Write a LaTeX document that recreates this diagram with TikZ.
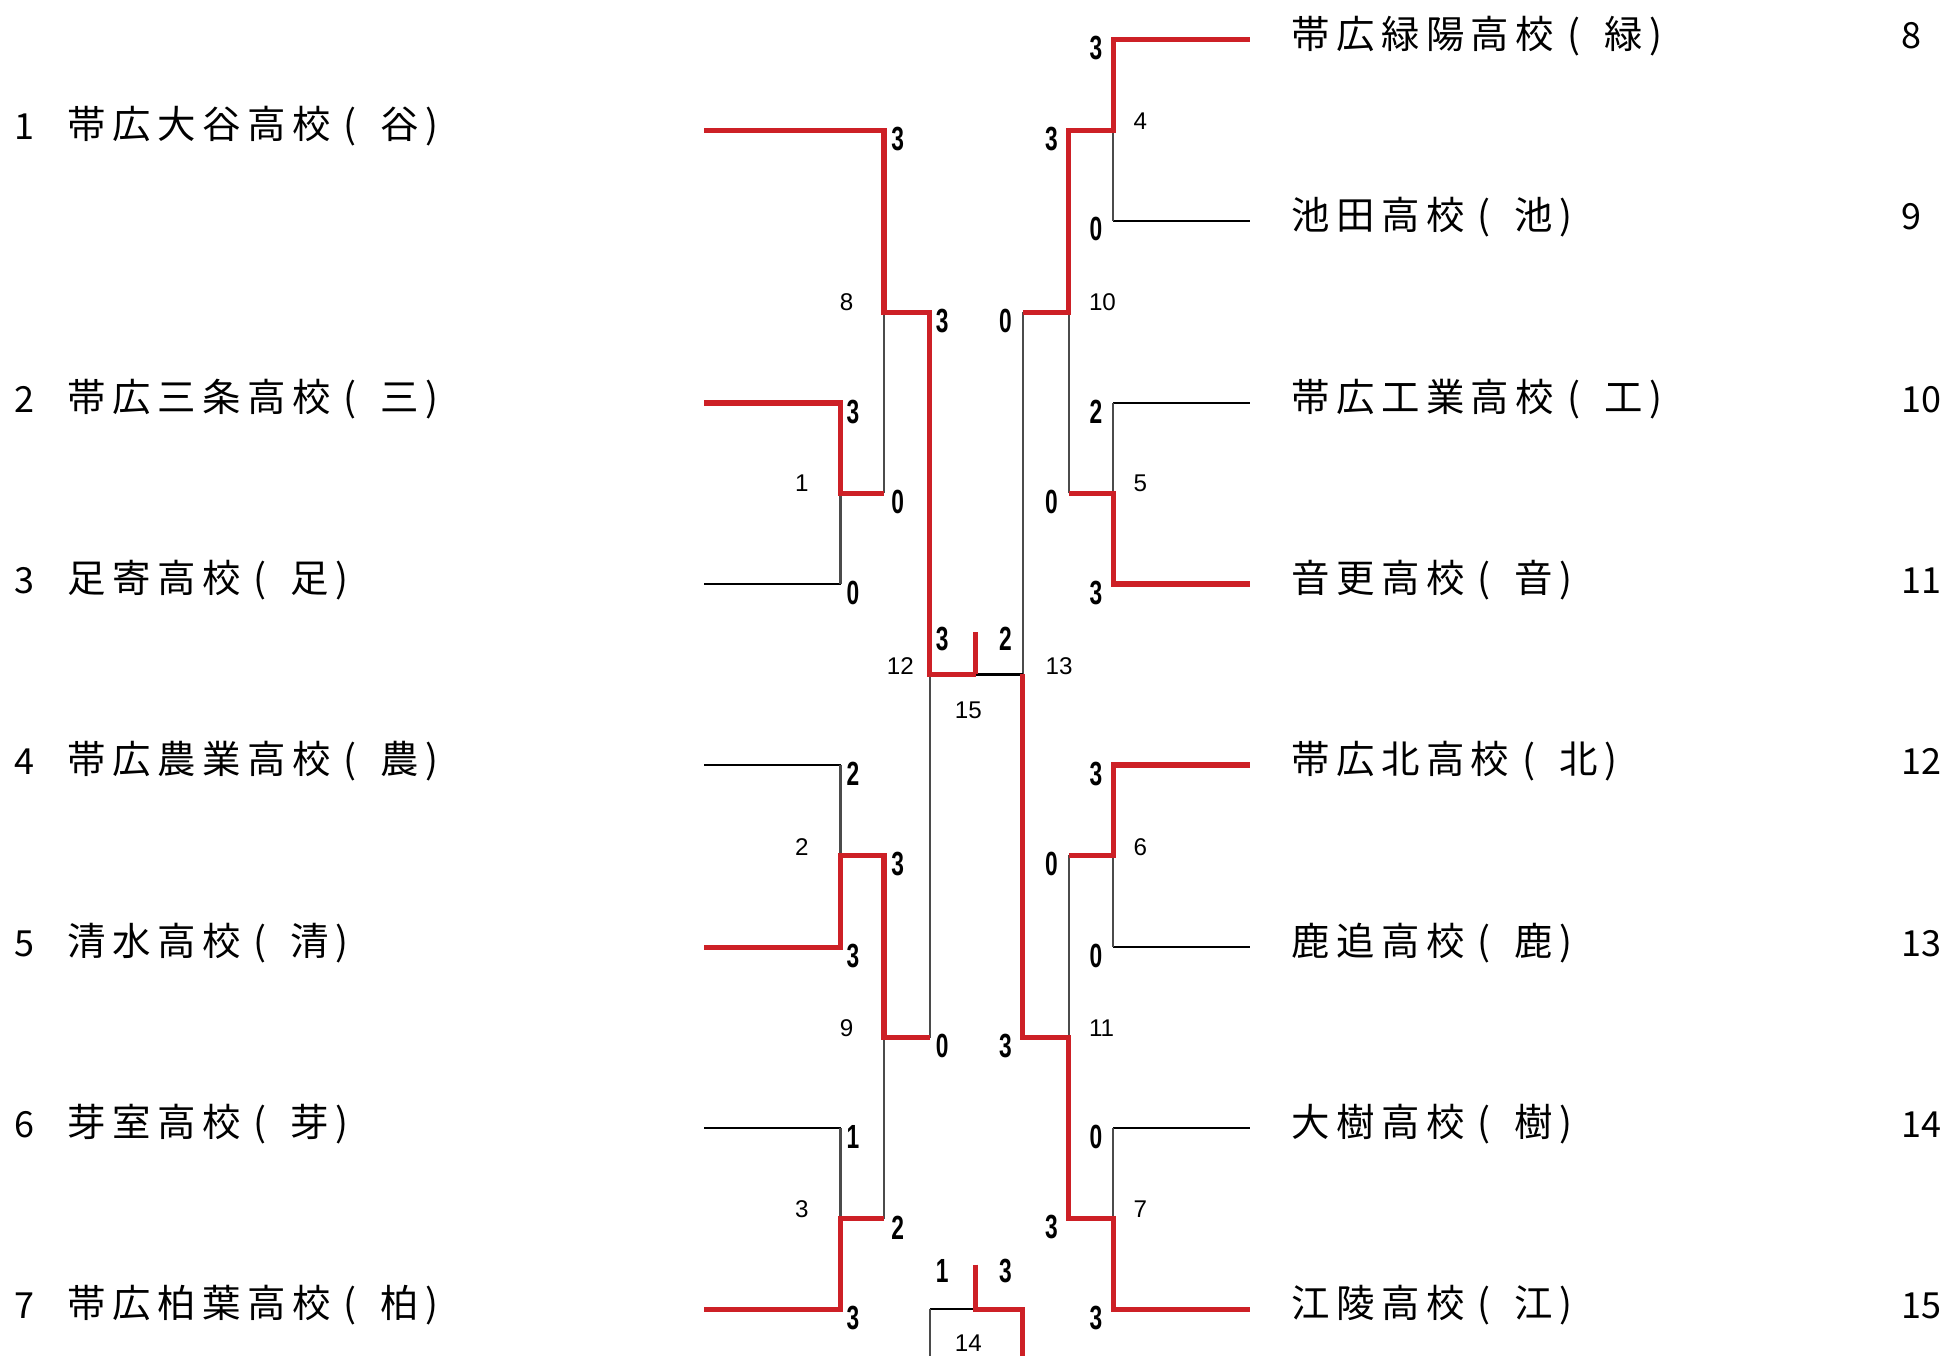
\documentclass[tikz,border=0pt]{standalone}
\usepackage{fontspec}
\newfontfamily\jpfont[LetterSpace=17]{Noto Sans CJK JP}
\newfontfamily\jpnum{Noto Sans CJK JP}
\newfontfamily\scorefont[FakeStretch=0.68]{Liberation Sans}
\newfontfamily\labelfont{Liberation Sans}
\newcommand\myopen{\hspace{5.25pt}(\hspace{9.6pt}}
\definecolor{win}{RGB}{205,32,38}
\definecolor{lossv}{RGB}{75,75,75}
\begin{document}
\begin{tikzpicture}[x=0.5pt,y=-0.5pt,
  tl/.style={line width=0.9pt, black},
  vl/.style={line width=0.9pt, lossv},
  wl/.style={line width=2.1pt, win, line join=miter},
  team/.style={anchor=west, inner sep=0pt, font=\jpfont\fontsize{15.5}{17}\selectfont},
  tnum/.style={inner sep=0pt, font=\jpnum\fontsize{14.5}{16}\selectfont},
  sc/.style={inner sep=0pt, font=\scorefont\bfseries\fontsize{13.5}{15}\selectfont},
  ml/.style={inner sep=0pt, anchor=west, font=\labelfont\fontsize{9.75}{11}\selectfont},
  mlc/.style={inner sep=0pt, font=\labelfont\fontsize{9.75}{11}\selectfont}]
\useasboundingbox (0,0) rectangle (1568,1094);
% team line ends
\coordinate (T1) at (568,105);  \coordinate (E1) at (713,105);
\coordinate (T2) at (568,325);  \coordinate (E2) at (678,325);
\coordinate (T3) at (568,471);  \coordinate (E3) at (678,471);
\coordinate (T4) at (568,617);  \coordinate (E4) at (678,617);
\coordinate (T5) at (568,764);  \coordinate (E5) at (678,764);
\coordinate (T6) at (568,910);  \coordinate (E6) at (678,910);
\coordinate (T7) at (568,1056); \coordinate (E7) at (678,1056);
\coordinate (T8) at (1008,32);  \coordinate (E8) at (898,32);
\coordinate (T9) at (1008,178); \coordinate (E9) at (898,178);
\coordinate (T10) at (1008,325); \coordinate (E10) at (898,325);
\coordinate (T11) at (1008,471); \coordinate (E11) at (898,471);
\coordinate (T12) at (1008,617); \coordinate (E12) at (898,617);
\coordinate (T13) at (1008,764); \coordinate (E13) at (898,764);
\coordinate (T14) at (1008,910); \coordinate (E14) at (898,910);
\coordinate (T15) at (1008,1056); \coordinate (E15) at (898,1056);
% junctions
\coordinate (J1) at (678,398); \coordinate (O1) at (713,398);
\coordinate (J2) at (678,690); \coordinate (O2) at (713,690);
\coordinate (J3) at (678,983); \coordinate (O3) at (713,983);
\coordinate (J8) at (713,252); \coordinate (O8) at (750,252);
\coordinate (J9) at (713,837); \coordinate (O9) at (750,837);
\coordinate (J12) at (750,544); \coordinate (O12) at (787,544);
\coordinate (J4) at (898,105); \coordinate (O4) at (862,105);
\coordinate (J5) at (898,398); \coordinate (O5) at (862,398);
\coordinate (J6) at (898,690); \coordinate (O6) at (862,690);
\coordinate (J7) at (898,983); \coordinate (O7) at (862,983);
\coordinate (J10) at (862,252); \coordinate (O10) at (825,252);
\coordinate (J11) at (862,837); \coordinate (O11) at (825,837);
\coordinate (J13) at (825,544);
\coordinate (S15) at (787,510);
\coordinate (H14L) at (750,1056); \coordinate (H14M) at (787,1056); \coordinate (H14R) at (825,1056);
\coordinate (S14) at (787,1020);
\coordinate (B14L) at (750,1094); \coordinate (B14R) at (825,1094);
% losing lines
\draw[tl] (T3)--(E3) (T4)--(E4) (T6)--(E6) (T9)--(E9) (T10)--(E10) (T13)--(E13) (T14)--(E14);
\draw[vl] (E3)--(J1) (E4)--(J2) (E6)--(J3) (O1)--(J8) (O3)--(J9) (O9)--(J12)
  (E9)--(J4) (E10)--(J5) (E13)--(J6) (E14)--(J7) (O5)--(J10) (O6)--(J11) (O10)--(J13);
\draw[tl] (O12)--(J13) (H14L)--(H14M);
\draw[vl] (H14L)--(B14L);
% winning lines
\draw[wl] (T1)--(E1)--(J8)--(O8)--(J12)--(O12);
\draw[wl] (S15)--(O12);
\draw[wl] (T2)--(E2)--(J1)--(O1);
\draw[wl] (T5)--(E5)--(J2)--(O2)--(J9)--(O9);
\draw[wl] (T7)--(E7)--(J3)--(O3);
\draw[wl] (T8)--(E8)--(J4)--(O4)--(J10)--(O10);
\draw[wl] (T11)--(E11)--(J5)--(O5);
\draw[wl] (T12)--(E12)--(J6)--(O6);
\draw[wl] (T15)--(E15)--(J7)--(O7)--(J11)--(O11)--(J13);
\draw[wl] (S14)--(H14M)--(H14R)--(B14R);
% team names left
\node[tnum] (k1) at (20,102) {1}; \node[team] (n1) at (54,102) {帯広大谷高校\myopen 谷)};
\node[tnum] (k2) at (20,322) {2}; \node[team] (n2) at (54,322) {帯広三条高校\myopen 三)};
\node[tnum] (k3) at (20,468) {3}; \node[team] (n3) at (54,468) {足寄高校\myopen 足)};
\node[tnum] (k4) at (20,614) {4}; \node[team] (n4) at (54,614) {帯広農業高校\myopen 農)};
\node[tnum] (k5) at (20,761) {5}; \node[team] (n5) at (54,761) {清水高校\myopen 清)};
\node[tnum] (k6) at (20,907) {6}; \node[team] (n6) at (54,907) {芽室高校\myopen 芽)};
\node[tnum] (k7) at (20,1053) {7}; \node[team] (n7) at (54,1053) {帯広柏葉高校\myopen 柏)};
% team names right
\node[team] (n8) at (1041,29) {帯広緑陽高校\myopen 緑)};  \node[tnum,anchor=west] (k8) at (1533,29) {8};
\node[team] (n9) at (1041,175) {池田高校\myopen 池)};      \node[tnum,anchor=west] (k9) at (1533,175) {9};
\node[team] (n10) at (1041,322) {帯広工業高校\myopen 工)}; \node[tnum,anchor=west] (k10) at (1533,322) {10};
\node[team] (n11) at (1041,468) {音更高校\myopen 音)};     \node[tnum,anchor=west] (k11) at (1533,468) {11};
\node[team] (n12) at (1041,614) {帯広北高校\myopen 北)};   \node[tnum,anchor=west] (k12) at (1533,614) {12};
\node[team] (n13) at (1041,761) {鹿追高校\myopen 鹿)};     \node[tnum,anchor=west] (k13) at (1533,761) {13};
\node[team] (n14) at (1041,907) {大樹高校\myopen 樹)};     \node[tnum,anchor=west] (k14) at (1533,907) {14};
\node[team] (n15) at (1041,1053) {江陵高校\myopen 江)};    \node[tnum,anchor=west] (k15) at (1533,1053) {15};
% scores left
\node[sc] (s1a) at (688,332) {3}; \node[sc] (s1b) at (688,478) {0};
\node[sc] (s2a) at (688,624) {2}; \node[sc] (s2b) at (688,771) {3};
\node[sc] (s3a) at (688,917) {1}; \node[sc] (s3b) at (688,1063) {3};
\node[sc] (s8a) at (724,112) {3}; \node[sc] (s8b) at (724,405) {0};
\node[sc] (s9a) at (724,697) {3}; \node[sc] (s9b) at (724,990) {2};
\node[sc] (s12a) at (760,259) {3}; \node[sc] (s12b) at (760,844) {0};
\node[sc] (s15a) at (760,515) {3}; \node[sc] (s15b) at (811,515) {2};
\node[sc] (s14a) at (760,1025) {1}; \node[sc] (s14b) at (811,1025) {3};
% scores right
\node[sc] (s4a) at (884,39) {3}; \node[sc] (s4b) at (884,185) {0};
\node[sc] (s5a) at (884,332) {2}; \node[sc] (s5b) at (884,478) {3};
\node[sc] (s6a) at (884,624) {3}; \node[sc] (s6b) at (884,771) {0};
\node[sc] (s7a) at (884,917) {0}; \node[sc] (s7b) at (884,1063) {3};
\node[sc] (s10a) at (848,112) {3}; \node[sc] (s10b) at (848,405) {0};
\node[sc] (s11a) at (848,697) {0}; \node[sc] (s11b) at (848,990) {3};
\node[sc] (s13a) at (811,259) {0}; \node[sc] (s13b) at (811,844) {3};
% match labels
\node[ml] (m1) at (641,390) {1};
\node[ml] (m2) at (641,683) {2};
\node[ml] (m3) at (641,975) {3};
\node[ml] (m8) at (677,244) {8};
\node[ml] (m9) at (677,829) {9};
\node[ml] (m12) at (715,537) {12};
\node[ml] (m4) at (914,98) {4};
\node[ml] (m5) at (914,390) {5};
\node[ml] (m6) at (914,683) {6};
\node[ml] (m7) at (914,975) {7};
\node[ml] (m10) at (878,244) {10};
\node[ml] (m11) at (878,829) {11};
\node[ml] (m13) at (843,537) {13};
\node[mlc] (m15) at (781,573) {15};
\node[mlc] (m14) at (781,1083) {14};
\end{tikzpicture}
\end{document}
